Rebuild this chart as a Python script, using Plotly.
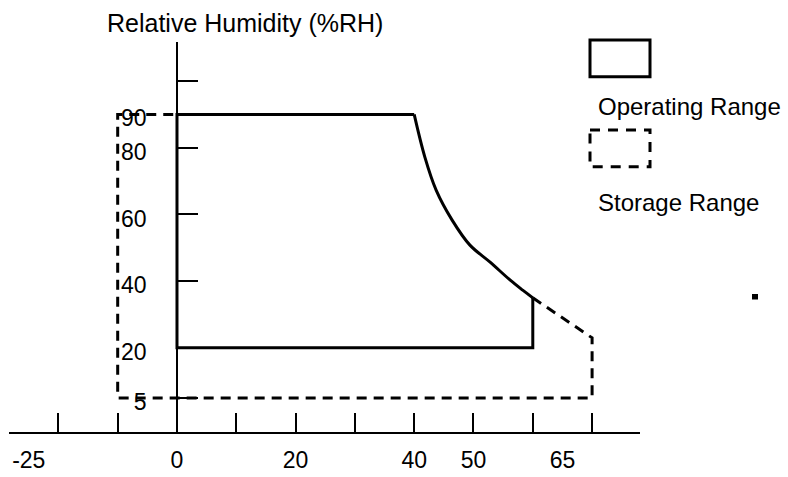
import plotly.graph_objects as go

# ---------------- data ----------------
# operating-range curve between 40 °C / 90 %RH and 60 °C / 35 %RH
curve_temp = [40, 41.8, 43.7, 46.4, 49.4, 52.8, 56.2, 58.3, 60]
curve_rh = [90, 77.2, 67.3, 58.3, 50.8, 45.7, 40.3, 37.3, 35]

op_left_temp = 0
op_right_temp = 60
op_low_rh = 20
op_high_rh = 90

st_left_temp = -10
st_right_temp = 70
st_corner_rh = 23
st_low_rh = 5
st_high_rh = 90

x_tick_marks = [-20, -10, 0, 10, 20, 30, 40, 50, 60, 70]
x_tick_labels = [-25, 0, 20, 40, 50, 65]
y_tick_marks = [100, 90, 80, 60, 40, 20, 5]
y_tick_labels = ["", "90", "80", "60", "40", "20", "5"]

legend_labels = ["Operating Range", "Storage Range"]
title_text = "Relative Humidity (%RH)"

# ---------------- outlines built from the data ----------------
op_x = [curve_temp[-1], op_right_temp, op_left_temp, op_left_temp, curve_temp[0]]
op_y = [curve_rh[-1], op_low_rh, op_low_rh, op_high_rh, op_high_rh]

st_x = [curve_temp[-1], st_right_temp, st_right_temp, st_left_temp, st_left_temp, curve_temp[0]]
st_y = [curve_rh[-1], st_corner_rh, st_low_rh, st_low_rh, st_high_rh, st_high_rh]

# ---------------- layout geometry ----------------
W, H = 788, 477
L, R, T, B = 9, 640, 42, 432
X_RANGE = [-28.33, 78.08]
Y_RANGE = [-5.23, 111.71]
FONT = "Liberation Sans, Arial, Helvetica, sans-serif"


def pxx(x):
    return (x - L) / (R - L)


def pxy(y):
    return (B - y) / (B - T)


fig = go.Figure()
fig.add_trace(go.Scatter(x=st_x, y=st_y, mode="lines",
                         line=dict(color="black", width=3, dash="10px,7px"),
                         hoverinfo="skip", showlegend=False))
fig.add_trace(go.Scatter(x=op_x, y=op_y, mode="lines",
                         line=dict(color="black", width=3),
                         hoverinfo="skip", showlegend=False))
fig.add_trace(go.Scatter(x=curve_temp, y=curve_rh, mode="lines",
                         line=dict(color="black", width=3, shape="spline", smoothing=1.0),
                         hoverinfo="skip", showlegend=False))
# invisible trace so the label axis is drawn
fig.add_trace(go.Scatter(x=[x_tick_labels[0]], y=[st_low_rh], mode="markers",
                         marker=dict(opacity=0), xaxis="x2", yaxis="y",
                         hoverinfo="skip", showlegend=False))

fig.update_layout(
    width=W, height=H, autosize=False,
    margin=dict(l=L, r=W - R, t=T, b=H - B, pad=0, autoexpand=False),
    paper_bgcolor="white", plot_bgcolor="white",
    font=dict(family=FONT, size=23, color="black"),
    xaxis=dict(domain=[0, 1], range=X_RANGE, anchor="y", automargin=False,
               showline=True, linecolor="black", linewidth=1.5,
               ticks="inside", ticklen=19, tickwidth=1.5, tickcolor="black",
               tickmode="array", tickvals=x_tick_marks, showticklabels=False,
               showgrid=False, zeroline=False),
    xaxis2=dict(overlaying="x", range=X_RANGE, anchor="y", side="bottom",
                automargin=False,
                tickmode="array", tickvals=x_tick_labels,
                ticktext=[str(v) for v in x_tick_labels],
                ticks="", showline=False, showgrid=False, zeroline=False,
                ticklabelstandoff=12,
                tickfont=dict(family=FONT, size=23, color="black")),
    yaxis=dict(domain=[0, 1], range=Y_RANGE, anchor="free", position=pxx(177),
               automargin=False,
               showline=True, linecolor="black", linewidth=1.5,
               ticks="inside", ticklen=20, tickwidth=1.5, tickcolor="black",
               tickmode="array", tickvals=y_tick_marks, ticktext=y_tick_labels,
               ticklabelstandoff=25, ticklabelshift=4,
               tickfont=dict(family=FONT, size=23, color="black"),
               showgrid=False, zeroline=False),
)

shapes = [
    dict(type="rect", xref="paper", yref="paper",
         x0=pxx(590), x1=pxx(650), y0=pxy(40), y1=pxy(76.7),
         line=dict(color="black", width=3)),
    dict(type="rect", xref="paper", yref="paper",
         x0=pxx(590), x1=pxx(650), y0=pxy(130), y1=pxy(166.7),
         line=dict(color="black", width=3, dash="10px,8px")),
    dict(type="rect", xref="paper", yref="paper",
         x0=pxx(752), x1=pxx(758), y0=pxy(294), y1=pxy(299.5),
         fillcolor="black", line=dict(width=0)),
]
fig.update_layout(shapes=shapes)

annotations = [
    dict(text=title_text, xref="paper", yref="paper", x=pxx(105), y=pxy(23),
         xanchor="left", yanchor="middle", showarrow=False,
         font=dict(family=FONT, size=25, color="black")),
    dict(text=legend_labels[0], xref="paper", yref="paper", x=pxx(596), y=pxy(107),
         xanchor="left", yanchor="middle", showarrow=False,
         font=dict(family=FONT, size=24, color="black")),
    dict(text=legend_labels[1], xref="paper", yref="paper", x=pxx(596), y=pxy(202),
         xanchor="left", yanchor="middle", showarrow=False,
         font=dict(family=FONT, size=24, color="black")),
]
fig.update_layout(annotations=annotations)

fig.write_html("out.html",
               config={"displayModeBar": False},
               post_script="document.body.style.margin='0';document.body.style.padding='0';")
